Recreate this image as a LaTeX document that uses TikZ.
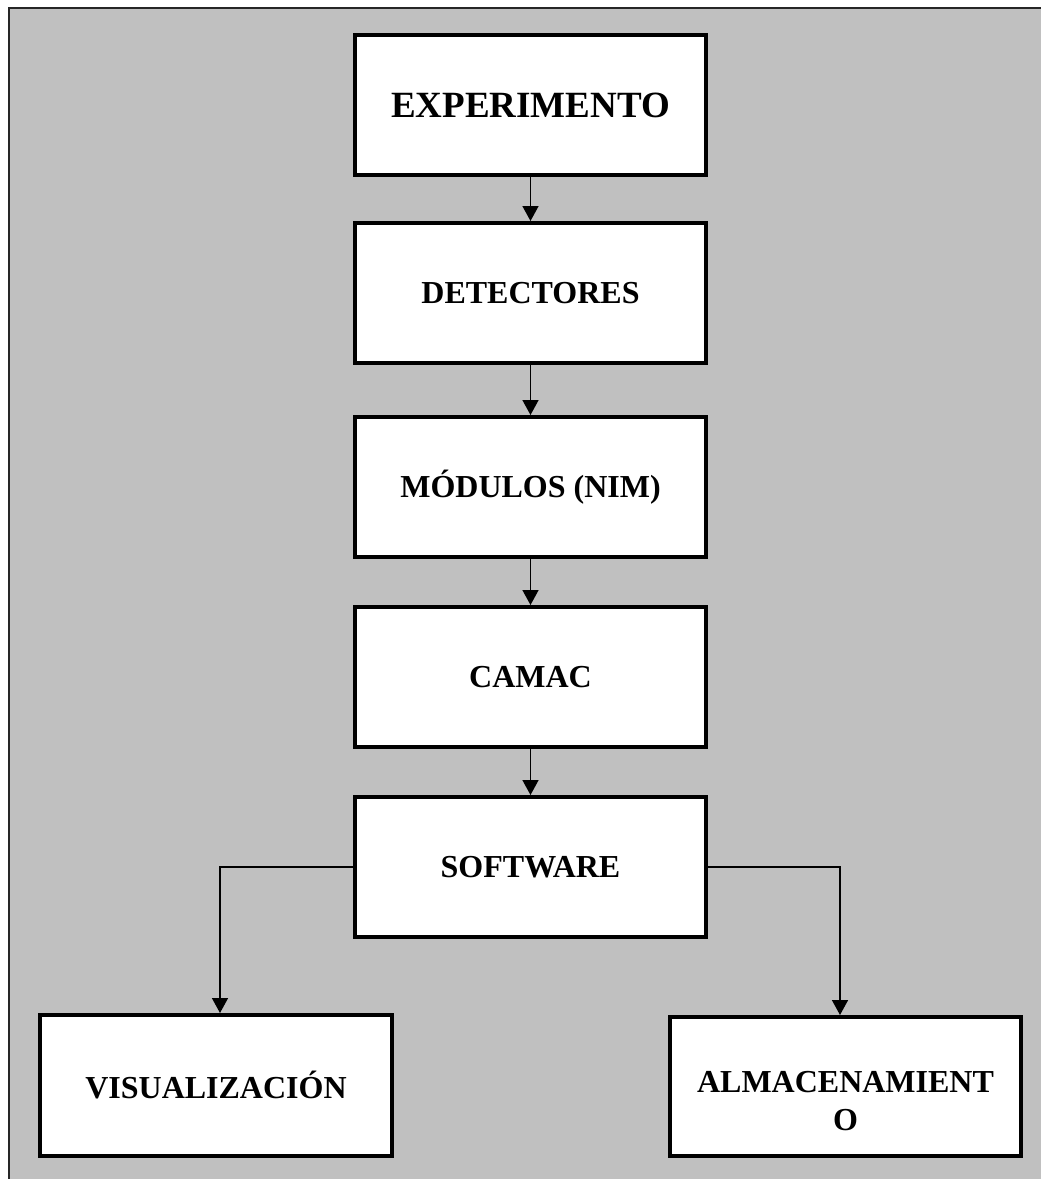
\documentclass[tikz,border=0pt]{standalone}
\usepackage{fontspec}
\setmainfont{Liberation Serif}
\usetikzlibrary{arrows.meta}
\definecolor{panelgray}{RGB}{192,192,192}
\tikzset{
  stagebox/.style={draw=black, line width=4pt, fill=white, rectangle,
    minimum width=351pt, minimum height=140pt, inner sep=0pt,
    font=\bfseries\fontsize{32}{38}\selectfont, align=center},
  flowarrow/.style={line width=1.5pt, -{Triangle[width=16pt,length=15pt]}},
  labeltext/.style={font=\bfseries\fontsize{32}{38}\selectfont, align=center, inner sep=0pt}
}
\begin{document}
\begin{tikzpicture}[x=1pt,y=-1pt]
  \useasboundingbox (0,0) rectangle (1041,1179);
  % grey panel with its frame on the left and top
  \fill[panelgray] (9,8) rectangle (1041,1179);
  \draw[line width=2pt, black!85] (9,1179) -- (9,8) -- (1041,8);

  % main chain of stages
  \node[stagebox, font=\bfseries\fontsize{37}{44}\selectfont] (exp) at (530.5,105) {EXPERIMENTO};
  \node[stagebox] (det)  at (530.5,293) {DETECTORES};
  \node[stagebox] (mod)  at (530.5,487) {MÓDULOS (NIM)};
  \node[stagebox] (cam)  at (530.5,677) {CAMAC};
  \node[stagebox] (soft) at (530.5,867) {SOFTWARE};

  % outputs
  \node[stagebox, minimum width=352pt, minimum height=141pt] (vis) at (216,1085.5) {VISUALIZACIÓN};
  \node[stagebox, minimum height=139pt] (alm) at (845.5,1086.5) {};
  \node[labeltext] (almtext) at (845.5,1101) {ALMACENAMIENT\\O};

  % connectors
  \draw[flowarrow] (exp) -- (det);
  \draw[flowarrow] (det) -- (mod);
  \draw[flowarrow] (mod) -- (cam);
  \draw[flowarrow] (cam) -- (soft);
  \coordinate (visin) at ([xshift=4pt]vis.north);
  \coordinate (almin) at ([xshift=-5.5pt]alm.north);
  \draw[flowarrow] (soft.west) -| (visin);
  \draw[flowarrow] (soft.east) -| (almin);
\end{tikzpicture}
\end{document}
